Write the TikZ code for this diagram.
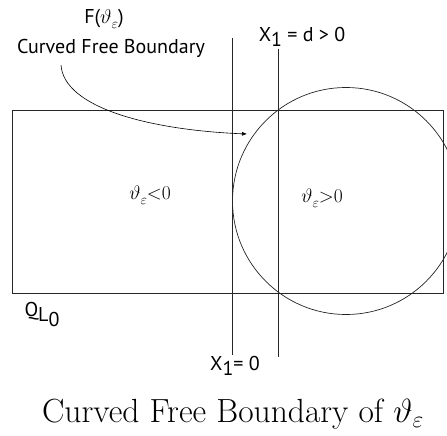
\RequirePackage{fix-cm}
\documentclass[tikz,border=0pt]{standalone}
\usepackage{fontspec}
\setsansfont{PT Sans}
\usetikzlibrary{arrows.meta,positioning}
\newcommand{\lowsub}[1]{\raisebox{-0.5ex}{#1}}
\newcommand{\thetaeps}{$\vartheta$\raisebox{-0.55ex}{\fontsize{14}{16}\selectfont$\varepsilon$}}

\begin{document}
\begin{tikzpicture}[x=1pt, y=-1pt,
  edge/.style={line width=0.7pt, draw=black!85},
  lbl/.style={inner sep=0pt, font=\sffamily\fontsize{20}{24}\selectfont},
  sgn/.style={inner sep=0pt, font=\fontsize{19.5}{23}\selectfont},
]
  \useasboundingbox (0,0) rectangle (447,436);
  \clip (0,0) rectangle (447,436);

  % domain and lines
  \draw[edge] (12,110) rectangle (443,293);
  \coordinate (z0top) at (232,38);  \coordinate (z0bot) at (232,355);
  \coordinate (zdtop) at (278,49);  \coordinate (zdbot) at (278,357);
  \draw[edge] (z0top) -- (z0bot);
  \draw[edge] (zdtop) -- (zdbot);
  \draw[edge] (346,201) circle (113.5);

  % labels
  \node[lbl] (F)  at (104,19)  {F(\thetaeps)};
  \node[lbl] (fb) at (111,48)  {Curved Free Boundary};
  \node[lbl] (xd) at (302,37)  {X\lowsub{1} = d > 0};
  \node[lbl] (x0) at (235,366) {X\lowsub{1}= 0};
  \node[lbl] (Q)  at (42,314)  {Q\lowsub{L\lowsub{0}}};
  \node[sgn] (neg) at (150,195) {\thetaeps<0};
  \node[sgn] (pos) at (322,198) {\thetaeps>0};
  \node[inner sep=0pt, font=\fontsize{33.5}{38}\selectfont] (cap) at (233,414)
    {Curved Free Boundary of $\vartheta_\varepsilon$};

  % pointer to the boundary
  \coordinate (from) at (61,65);
  \coordinate (to) at (247,134);
  \draw[line width=0.6pt, -{Latex[length=5pt,width=4pt]}] (from)
    .. controls (64,108) and (150,130) .. (to);
\end{tikzpicture}
\end{document}
